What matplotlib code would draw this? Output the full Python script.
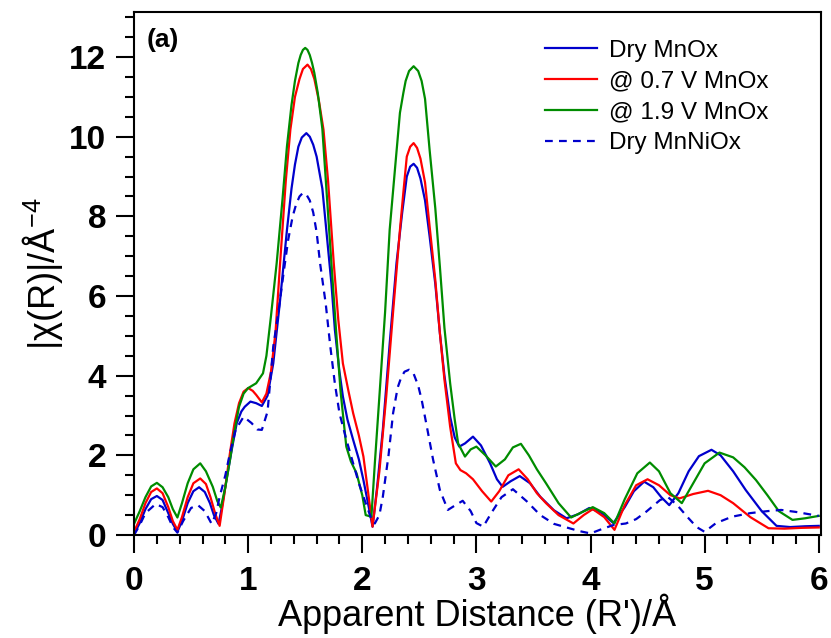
import matplotlib
matplotlib.use("Agg")
import matplotlib.pyplot as plt
from matplotlib.ticker import MultipleLocator

plt.rcParams['font.family'] = ['Liberation Sans', 'DejaVu Sans']
plt.rcParams['mathtext.fontset'] = 'custom'
plt.rcParams['mathtext.rm'] = 'Liberation Sans'
plt.rcParams['mathtext.it'] = 'Liberation Sans:italic'
plt.rcParams['mathtext.bf'] = 'Liberation Sans:bold'

# Dry MnOx (blue solid)
r_dry = [0.0, 0.05, 0.1, 0.15, 0.2, 0.25, 0.3, 0.34, 0.38, 0.42, 0.47, 0.52, 0.57, 0.62, 0.665,
         0.7, 0.74, 0.77, 0.81, 0.86, 0.9, 0.94, 0.97, 1.02, 1.07, 1.12, 1.17, 1.22, 1.28, 1.34,
         1.38, 1.41, 1.44, 1.47, 1.51, 1.54, 1.57, 1.6, 1.65, 1.69, 1.73, 1.76, 1.8, 1.83, 1.87,
         1.92, 1.97, 2.01, 2.05, 2.09, 2.13, 2.18, 2.24, 2.3, 2.35, 2.39, 2.42, 2.45, 2.48, 2.51,
         2.55, 2.59, 2.64, 2.68, 2.72, 2.77, 2.81, 2.85, 2.9, 2.97, 3.04, 3.12, 3.18, 3.23, 3.3,
         3.38, 3.47, 3.56, 3.68, 3.79, 3.89, 3.99, 4.1, 4.2, 4.3, 4.38, 4.47, 4.55, 4.62, 4.69,
         4.77, 4.86, 4.95, 5.06, 5.14, 5.25, 5.36, 5.5, 5.63, 5.75, 5.88, 6.0]
chi_dry = [0.03, 0.3, 0.65, 0.9, 0.98, 0.88, 0.55, 0.28, 0.08, 0.35, 0.8, 1.1, 1.2, 1.08, 0.8,
           0.5, 0.28, 0.7, 1.38, 2.2, 2.81, 3.1, 3.22, 3.35, 3.31, 3.24, 3.5, 4.31, 5.9, 7.66,
           8.7, 9.3, 9.75, 9.98, 10.09, 10.0, 9.8, 9.5, 8.7, 7.5, 6.3, 5.15, 4.1, 3.48, 2.9,
           2.39, 1.9, 1.38, 0.8, 0.21, 1.2, 2.64, 4.8, 6.83, 8.1, 9.0, 9.25, 9.32, 9.22, 8.95,
           8.4, 7.5, 6.3, 5.07, 4.0, 2.97, 2.45, 2.22, 2.3, 2.47, 2.25, 1.8, 1.4, 1.21, 1.35,
           1.48, 1.3, 0.96, 0.62, 0.42, 0.52, 0.68, 0.55, 0.3, 0.7, 1.1, 1.34, 1.2, 0.95, 0.75,
           1.05, 1.6, 1.98, 2.14, 2.0, 1.6, 1.13, 0.6, 0.23, 0.2, 0.22, 0.23]

# @ 0.7 V MnOx (red)
r_07 = [0.0, 0.05, 0.1, 0.15, 0.2, 0.25, 0.3, 0.34, 0.38, 0.42, 0.47, 0.52, 0.58, 0.63, 0.67,
        0.71, 0.75, 0.79, 0.84, 0.88, 0.92, 0.96, 1.0, 1.04, 1.07, 1.12, 1.16, 1.2, 1.24, 1.28,
        1.33, 1.37, 1.41, 1.45, 1.48, 1.52, 1.55, 1.58, 1.62, 1.66, 1.7, 1.75, 1.79, 1.83, 1.88,
        1.92, 1.97, 2.01, 2.05, 2.09, 2.15, 2.21, 2.27, 2.33, 2.36, 2.39, 2.42, 2.45, 2.48, 2.51,
        2.55, 2.59, 2.64, 2.68, 2.72, 2.77, 2.82, 2.86, 2.91, 2.97, 3.05, 3.13, 3.2, 3.28, 3.37,
        3.45, 3.53, 3.61, 3.72, 3.85, 3.94, 4.02, 4.12, 4.21, 4.3, 4.4, 4.5, 4.6, 4.7, 4.78,
        4.9, 5.03, 5.14, 5.25, 5.4, 5.56, 5.7, 5.85, 6.0]
chi_07 = [0.08, 0.4, 0.8, 1.08, 1.17, 1.05, 0.7, 0.35, 0.13, 0.45, 0.95, 1.3, 1.42, 1.28, 0.95,
          0.55, 0.23, 1.0, 2.05, 2.8, 3.31, 3.6, 3.69, 3.62, 3.52, 3.33, 3.55, 4.1, 5.1, 6.83,
          8.9, 10.18, 11.0, 11.45, 11.7, 11.81, 11.7, 11.45, 10.9, 10.18, 8.9, 6.83, 5.4, 4.31, 3.6,
          3.06, 2.5, 1.97, 1.1, 0.21, 1.6, 3.48, 5.6, 7.66, 8.6, 9.5, 9.75, 9.84, 9.72, 9.45,
          8.85, 7.75, 6.4, 5.07, 3.9, 2.72, 1.8, 1.63, 1.55, 1.4, 1.1, 0.84, 1.1, 1.5, 1.65,
          1.4, 1.05, 0.8, 0.5, 0.29, 0.5, 0.65, 0.45, 0.13, 0.75, 1.25, 1.4, 1.25, 1.0, 0.92,
          1.03, 1.11, 1.0, 0.8, 0.45, 0.17, 0.16, 0.18, 0.19]

# @ 1.9 V MnOx (green)
r_19 = [0.0, 0.05, 0.1, 0.15, 0.2, 0.25, 0.3, 0.34, 0.38, 0.42, 0.47, 0.52, 0.58, 0.63, 0.69,
        0.73, 0.76, 0.8, 0.84, 0.88, 0.92, 0.96, 1.0, 1.07, 1.13, 1.16, 1.2, 1.25, 1.3, 1.34,
        1.38, 1.41, 1.44, 1.46, 1.48, 1.5, 1.52, 1.54, 1.56, 1.58, 1.61, 1.65, 1.69, 1.73, 1.77,
        1.81, 1.86, 1.9, 1.95, 2.0, 2.03, 2.08, 2.11, 2.15, 2.2, 2.24, 2.29, 2.33, 2.36, 2.38,
        2.41, 2.45, 2.49, 2.52, 2.55, 2.59, 2.64, 2.68, 2.72, 2.77, 2.81, 2.84, 2.9, 2.95, 3.0,
        3.08, 3.17, 3.25, 3.32, 3.39, 3.46, 3.53, 3.61, 3.72, 3.83, 3.93, 4.02, 4.12, 4.21, 4.3,
        4.41, 4.52, 4.6, 4.7, 4.8, 4.9, 5.0, 5.13, 5.25, 5.35, 5.45, 5.55, 5.65, 5.77, 5.88,
        6.0]
chi_19 = [0.28, 0.6, 0.95, 1.22, 1.31, 1.2, 0.95, 0.65, 0.44, 0.8, 1.3, 1.65, 1.8, 1.6, 1.21,
          0.85, 0.69, 1.2, 1.88, 2.6, 3.22, 3.55, 3.69, 3.81, 4.06, 4.5, 5.5, 6.83, 8.4, 9.76,
          10.8, 11.4, 11.85, 12.05, 12.18, 12.23, 12.18, 12.05, 11.85, 11.6, 11.1, 10.2, 8.5, 6.8, 5.15,
          3.6, 2.22, 1.85, 1.55, 1.0, 0.5, 0.46, 1.8, 3.48, 5.6, 7.66, 9.3, 10.6, 11.1, 11.4,
          11.65, 11.77, 11.65, 11.4, 10.95, 9.67, 8.2, 6.74, 5.2, 3.81, 2.9, 2.3, 1.97, 2.15, 2.22,
          2.0, 1.72, 1.9, 2.2, 2.29, 2.0, 1.65, 1.3, 0.8, 0.44, 0.58, 0.7, 0.55, 0.29, 0.9,
          1.55, 1.82, 1.6, 1.05, 0.8, 1.3, 1.8, 2.07, 1.95, 1.7, 1.38, 1.0, 0.6, 0.38, 0.42,
          0.48]

# Dry MnNiOx (blue dashed)
r_ni = [0.0, 0.05, 0.1, 0.19, 0.25, 0.3, 0.34, 0.38, 0.43, 0.5, 0.56, 0.62, 0.68, 0.72, 0.75,
        0.8, 0.84, 0.89, 0.96, 1.03, 1.08, 1.12, 1.17, 1.22, 1.27, 1.31, 1.35, 1.39, 1.42, 1.45,
        1.48, 1.51, 1.54, 1.57, 1.6, 1.63, 1.68, 1.72, 1.76, 1.8, 1.86, 1.92, 1.97, 2.03, 2.08,
        2.11, 2.15, 2.18, 2.23, 2.27, 2.31, 2.34, 2.37, 2.41, 2.45, 2.49, 2.52, 2.56, 2.62, 2.68,
        2.75, 2.8, 2.88, 2.95, 3.0, 3.06, 3.13, 3.22, 3.32, 3.44, 3.56, 3.68, 3.79, 3.9, 4.0,
        4.1, 4.2, 4.31, 4.4, 4.49, 4.61, 4.68, 4.76, 4.85, 4.93, 5.0, 5.1, 5.24, 5.4, 5.55,
        5.67, 5.8, 5.9, 6.0]
chi_ni = [0.0, 0.25, 0.55, 0.78, 0.7, 0.45, 0.2, 0.06, 0.35, 0.68, 0.75, 0.6, 0.28, 0.55, 0.96,
          1.5, 2.05, 2.64, 2.97, 2.81, 2.65, 2.64, 3.1, 4.73, 5.7, 6.57, 7.4, 8.0, 8.3, 8.5,
          8.59, 8.55, 8.4, 8.1, 7.6, 6.83, 5.8, 4.73, 3.8, 3.06, 2.4, 1.8, 1.3, 0.8, 0.4,
          0.29, 0.5, 0.96, 2.0, 3.06, 3.7, 3.95, 4.1, 4.15, 4.05, 3.75, 3.4, 2.81, 1.9, 1.13,
          0.63, 0.72, 0.86, 0.6, 0.3, 0.21, 0.55, 0.95, 1.15, 0.85, 0.5, 0.28, 0.19, 0.1, 0.04,
          0.15, 0.25, 0.29, 0.4, 0.59, 0.88, 0.95, 0.75, 0.45, 0.2, 0.08, 0.3, 0.46, 0.55, 0.6,
          0.63, 0.58, 0.53, 0.48]

fig = plt.figure(figsize=(8.31, 6.38), dpi=100)
ax = fig.add_axes([0.1613, 0.1614, 0.8267, 0.8197])

ax.plot(r_dry, chi_dry, color='#0000cc', lw=1.6, label='Dry MnOx')
ax.plot(r_07, chi_07, color='#ff0000', lw=1.6, label='@ 0.7 V MnOx')
ax.plot(r_19, chi_19, color='#008c00', lw=1.6, label='@ 1.9 V MnOx')
ax.plot(r_ni, chi_ni, color='#0000cc', lw=1.6, ls=(0, (3.5, 2.8)), label='Dry MnNiOx')

ax.set_xlim(0, 6.02)
ax.set_ylim(0, 13.13)
ax.xaxis.set_major_locator(MultipleLocator(1))
ax.xaxis.set_minor_locator(MultipleLocator(0.2))
ax.yaxis.set_major_locator(MultipleLocator(2))
ax.yaxis.set_minor_locator(MultipleLocator(0.5))
ax.tick_params(which='major', direction='out', length=13, width=1.5, labelsize=24)
ax.tick_params(axis='x', which='major', pad=9)
ax.tick_params(axis='y', which='major', pad=7)
ax.tick_params(which='minor', direction='out', length=6.5, width=1.5)
for lab in ax.get_xticklabels() + ax.get_yticklabels():
    lab.set_fontweight('bold')
for sp in ax.spines.values():
    sp.set_linewidth(1.5)

ax.set_xlabel("Apparent Distance (R')/Å", fontsize=26, labelpad=-2)
ax.set_ylabel('|χ(R)|/Å$^{-4}$', fontsize=26, labelpad=3)

ax.text(0.019, 0.946, '(a)', transform=ax.transAxes, fontsize=19, fontweight='bold',
        ha='left', va='center')

ax.legend(loc='upper left', bbox_to_anchor=(0.598, 0.947), frameon=False, fontsize=17.5,
          handlelength=2.15, handletextpad=0.5, labelspacing=0.36, borderpad=0, borderaxespad=0)

fig.savefig('out.png', dpi=100)
